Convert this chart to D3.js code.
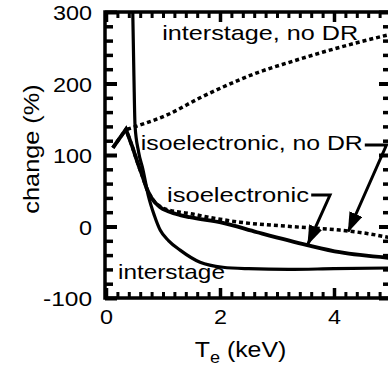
<!DOCTYPE html>
<html>
<head>
<meta charset="utf-8">
<script src="https://cdn.jsdelivr.net/npm/d3@7"></script>
<style>
  html, body { margin: 0; padding: 0; background: #fff; }
  svg { display: block; }
  text { font-family: "Liberation Sans", Arial, Helvetica, sans-serif; fill: #000; }
</style>
</head>
<body>
<svg id="chart" width="388" height="367"></svg>
<script>
// Electron temperature (keV) and percentage change for each model
const tInterstage = [0.465, 0.49, 0.51, 0.57, 0.65, 0.74, 0.85, 0.95, 1.1, 1.3, 1.65, 2.05, 2.5, 3.2, 4.0, 5.0];
const interstage  = [320, 210, 140, 105, 79, 44, 15, -5, -20, -33, -50, -57, -59, -60, -59, -58];

const tIso = [0.12, 0.35, 0.46, 0.56, 0.65, 0.72, 0.8, 0.95, 1.1, 1.3, 1.47, 2.05, 2.65, 3.53, 4.1, 5.0];
const iso  = [110, 136, 112, 88, 68, 52, 40, 27, 21, 16, 13, 5, -8, -26, -36, -44];

const tIsoNoDR = [0.12, 0.35, 0.46, 0.56, 0.65, 0.72, 0.8, 0.95, 1.1, 1.3, 1.47, 1.8, 2.35, 3.23, 4.1, 4.6, 5.0];
const isoNoDR  = [110, 136, 112, 88, 68, 52, 40, 28, 23, 20, 18, 13, 6, 0, -5, -10, -16];

const tInterNoDR = [0.37, 0.6, 1.07, 1.65, 2.05, 2.65, 3.23, 3.81, 4.4, 5.0];
const interNoDR  = [136, 142, 156, 180, 195, 215, 230, 244, 257, 269];

// Axis ticks
const yMajor = [-100, 0, 100, 200, 300];
const yMinorStep = 20;
const xMajor = [0, 2, 4];
const xMinorStep = 0.2;

// Curve labels and their leader arrows (data coordinates)
const labels = [
  { text: "interstage, no DR",    t: 0.985, v: 261, w: 196 },
  { text: "isoelectronic, no DR", t: 0.61,  v: 107, w: 222 },
  { text: "isoelectronic",        t: 1.07,  v: 34,  w: 142 },
  { text: "interstage",           t: 0.21,  v: -73, w: 107 }
];
const leaders = [
  { pts: [[4.54, 114], [4.92, 114], [4.25, -7]] },
  { pts: [[3.6, 44], [3.93, 44], [3.54, -25]] }
];

const svg = d3.select("#chart");
const x = d3.scaleLinear().domain([0, 5]).range([106, 391]);
const y = d3.scaleLinear().domain([-100, 300]).range([298, 12]);

const frame = { x0: x(0) - 1, x1: x(5), y0: y(300), y1: y(-100) };

// Clip region for the curves
svg.append("defs").append("clipPath").attr("id", "plotClip")
  .append("rect")
  .attr("x", frame.x0).attr("y", frame.y0)
  .attr("width", frame.x1 - frame.x0).attr("height", frame.y1 - frame.y0);

// Arrowhead marker
svg.select("defs").append("marker")
  .attr("id", "head")
  .attr("viewBox", "0 0 20 14")
  .attr("refX", 19).attr("refY", 7)
  .attr("markerUnits", "userSpaceOnUse")
  .attr("markerWidth", 20).attr("markerHeight", 14)
  .attr("orient", "auto")
  .append("path").attr("d", "M0,0 L20,7 L0,14 Z").attr("fill", "#000");

const range = (a, b, s) => d3.range(Math.round(a / s), Math.round(b / s) + 1).map(i => +(i * s).toFixed(4));

function styleAxis(g, majors, majorLen, minorLen, majorW, minorW) {
  g.select(".domain").remove();
  g.selectAll(".tick line")
    .attr("stroke", "#000")
    .attr("stroke-width", d => majors.includes(d) ? majorW : minorW)
    .each(function(d) {
      const ln = d3.select(this);
      const len = majors.includes(d) ? majorLen : minorLen;
      if (ln.attr("x2") !== null && +ln.attr("x2") !== 0) ln.attr("x2", Math.sign(+ln.attr("x2")) * len);
      if (ln.attr("y2") !== null && +ln.attr("y2") !== 0) ln.attr("y2", Math.sign(+ln.attr("y2")) * len);
    });
}

// Left axis with labels
const yTicks = range(-100, 300, yMinorStep);
const gLeft = svg.append("g").attr("transform", `translate(${frame.x0},0)`)
  .call(d3.axisLeft(y).tickValues(yTicks).tickSize(-8).tickPadding(13)
    .tickFormat(d => yMajor.includes(d) ? String(d) : ""));
styleAxis(gLeft, yMajor, 12, 8, 4, 3.5);
gLeft.selectAll(".tick text")
  .attr("font-size", 21).attr("dy", "0.36em").attr("font-family", null)
  .each(function() {
    const s = d3.select(this).text();
    if (s) d3.select(this).attr("textLength", s.length * 13 - (s.startsWith("-") ? 3 : 0)).attr("lengthAdjust", "spacingAndGlyphs");
  });

// Right axis (ticks only)
const gRight = svg.append("g").attr("transform", `translate(${frame.x1},0)`)
  .call(d3.axisRight(y).tickValues(yTicks).tickSize(-8).tickFormat(""));
styleAxis(gRight, yMajor, 12, 8, 4, 3.5);

// Bottom axis with labels
const xTicks = range(0, 5, xMinorStep);
const gBottom = svg.append("g").attr("transform", `translate(0,${frame.y1})`)
  .call(d3.axisBottom(x).tickValues(xTicks).tickSize(-6).tickPadding(11)
    .tickFormat(d => xMajor.includes(d) ? String(d) : ""));
styleAxis(gBottom, xMajor, 10, 6, 3.5, 3);
gBottom.selectAll(".tick text")
  .attr("font-size", 21).attr("font-family", null)
  .each(function() {
    const s = d3.select(this).text();
    if (s) d3.select(this).attr("textLength", 13).attr("lengthAdjust", "spacingAndGlyphs");
  });

// Top axis (ticks only)
const gTop = svg.append("g").attr("transform", `translate(0,${frame.y0})`)
  .call(d3.axisTop(x).tickValues(xTicks).tickSize(-6).tickFormat(""));
styleAxis(gTop, xMajor, 10, 6, 3.5, 3);

// Frame
svg.append("rect")
  .attr("x", frame.x0).attr("y", frame.y0)
  .attr("width", frame.x1 - frame.x0).attr("height", frame.y1 - frame.y0)
  .attr("fill", "none").attr("stroke", "#000").attr("stroke-width", 3.5);

// Curves
const plot = svg.append("g").attr("clip-path", "url(#plotClip)");
const zip = (ts, vs) => ts.map((t, i) => [t, vs[i]]);
const smooth = d3.line().x(d => x(d[0])).y(d => y(d[1])).curve(d3.curveMonotoneX);
const straight = d3.line().x(d => x(d[0])).y(d => y(d[1]));

const isoPts = zip(tIso, iso);
const isoNoDRPts = zip(tIsoNoDR, isoNoDR);

// dotted "no DR" curves
plot.append("path").attr("d", smooth(zip(tInterNoDR, interNoDR)))
  .attr("fill", "none").attr("stroke", "#000").attr("stroke-width", 3.5).attr("stroke-dasharray", "4,3");
plot.append("path").attr("d", straight(isoNoDRPts.slice(0, 3)) + smooth(isoNoDRPts.slice(2)).replace(/^M/, "L"))
  .attr("fill", "none").attr("stroke", "#000").attr("stroke-width", 3.5).attr("stroke-dasharray", "4,3");

// solid curves
plot.append("path").attr("d", smooth(zip(tInterstage, interstage)))
  .attr("fill", "none").attr("stroke", "#000").attr("stroke-width", 3.2);
plot.append("path").attr("d", straight(isoPts.slice(0, 3)) + smooth(isoPts.slice(2)).replace(/^M/, "L"))
  .attr("fill", "none").attr("stroke", "#000").attr("stroke-width", 3.8).attr("stroke-linejoin", "miter");

// Leaders with arrowheads
leaders.forEach(l => {
  svg.append("path").attr("d", straight(l.pts))
    .attr("fill", "none").attr("stroke", "#000").attr("stroke-width", 3)
    .attr("marker-end", "url(#head)");
});

// Curve labels
labels.forEach(l => {
  svg.append("text")
    .attr("x", x(l.t)).attr("y", y(l.v))
    .attr("font-size", 21)
    .attr("textLength", l.w).attr("lengthAdjust", "spacingAndGlyphs")
    .text(l.text);
});

// Axis titles
svg.append("text")
  .attr("transform", `translate(39,${(y(300) + y(-100)) / 2 - 6}) rotate(-90) scale(1.15,1)`)
  .attr("text-anchor", "middle").attr("font-size", 22)
  .text("change (%)");

const xt = svg.append("text")
  .attr("transform", `translate(${x(2.5) - 8},357) scale(1.13,1)`)
  .attr("text-anchor", "middle").attr("font-size", 22);
xt.append("tspan").text("T");
xt.append("tspan").attr("font-size", 16).attr("dy", 6).text("e");
xt.append("tspan").attr("dy", -6).text(" (keV)");
</script>
</body>
</html>
